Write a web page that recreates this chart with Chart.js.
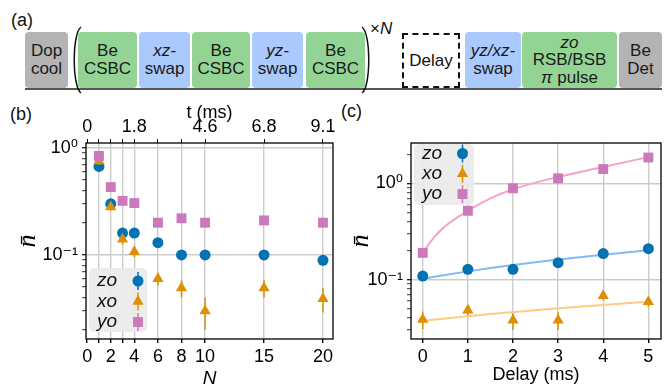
<!DOCTYPE html>
<html>
<head>
<meta charset="utf-8">
<script src="https://cdn.jsdelivr.net/npm/chart.js@4.4.1/dist/chart.umd.min.js"></script>
<style>
body{margin:0;width:670px;height:389px;position:relative;background:#fff;overflow:hidden;font-family:'Liberation Sans',Arial,sans-serif;color:#111}
.lbl{position:absolute;font-size:18px;line-height:18px}
.blk{position:absolute;top:32px;height:56px;border-radius:4px;display:flex;align-items:center;justify-content:center;text-align:center;font-size:17px;line-height:18px;color:#1a1a1a}
.g{background:#93d494}
.b{background:#aac9fc}
.k{background:#b4b4b4}
.dash{position:absolute;top:33px;height:55px;box-sizing:border-box;border:2px dashed #111;display:flex;align-items:center;justify-content:center;font-size:17px}
.base{position:absolute;left:25px;width:637px;top:88px;height:2px;background:#555}
canvas{position:absolute}
</style>
</head>
<body>
<div class="lbl" style="left:11px;top:11px">(a)</div>
<div class="blk k" style="left:25px;width:43px"><span>Dop<br>cool</span></div>
<div class="blk g" style="left:78px;width:59px"><span>Be<br>CSBC</span></div>
<div class="blk b" style="left:139px;width:51px"><span><i>xz-</i><br>swap</span></div>
<div class="blk g" style="left:192px;width:58px"><span>Be<br>CSBC</span></div>
<div class="blk b" style="left:252px;width:51px"><span><i>yz-</i><br>swap</span></div>
<div class="blk g" style="left:306px;width:59px"><span>Be<br>CSBC</span></div>
<div class="dash" style="left:402px;width:58px"><span>Delay</span></div>
<div class="blk b" style="left:465px;width:56px"><span><i>yz/xz-</i><br>swap</span></div>
<div class="blk g" style="left:522px;width:95px;line-height:17.5px"><span><i>zo</i><br>RSB/BSB<br><i>π</i> pulse</span></div>
<div class="blk k" style="left:619px;width:43px"><span>Be<br>Det</span></div>
<div class="base"></div>
<svg style="position:absolute;left:0;top:0" width="670" height="100">
  <path d="M81 27 C72 33 72 87 81 93" fill="none" stroke="#111" stroke-width="1.5"/>
  <path d="M362 27 C371 33 371 87 362 93" fill="none" stroke="#111" stroke-width="1.5"/>
</svg>
<div class="lbl" style="left:370px;top:20px;font-size:17px">×<i>N</i></div>
<div class="lbl" style="left:10px;top:105px">(b)</div>
<div class="lbl" style="left:341px;top:102px">(c)</div>

<canvas id="chartB" width="345" height="294" style="left:0;top:95px"></canvas>
<canvas id="chartC" width="330" height="294" style="left:340px;top:95px"></canvas>

<script>
// panel (b): nbar vs number of cooling cycles N
var nValues = [1, 2, 3, 4, 6, 8, 10, 15, 20];
var zoB = [0.67, 0.30, 0.16, 0.16, 0.13, 0.10, 0.10, 0.10, 0.089];
var xoB = [0.75, 0.28, 0.14, 0.107, 0.06, 0.049, 0.03, 0.049, 0.039];
var yoB = [0.84, 0.43, 0.32, 0.305, 0.20, 0.22, 0.20, 0.21, 0.20];
var zoBErr = [0.03, 0.015, 0.01, 0.01, 0.008, 0.006, 0.006, 0.006, 0.006];
var xoBErr = [0.04, 0.02, 0.015, 0.012, 0.008, 0.009, 0.01, 0.009, 0.01];
var yoBErr = [0.03, 0.02, 0.015, 0.015, 0.01, 0.01, 0.01, 0.01, 0.01];
var nTickPos = [0, 1, 2, 3, 4, 6, 8, 10, 15, 20];
var nTickLabels = ['0', '', '2', '', '4', '6', '8', '10', '15', '20'];
var tTickLabels = ['0', '', '', '', '1.8', '', '', '4.6', '6.8', '9.1'];

// panel (c): nbar vs delay
var delays = [0, 1, 2, 3, 4, 5];
var zoC = [0.109, 0.128, 0.128, 0.15, 0.187, 0.21];
var xoC = [0.0386, 0.048, 0.038, 0.038, 0.068, 0.059];
var yoC = [0.19, 0.52, 0.89, 1.13, 1.41, 1.86];
var zoCErr = [0.006, 0.006, 0.006, 0.007, 0.008, 0.009];
var xoCErr = [0.008, 0.007, 0.008, 0.008, 0.007, 0.007];
var yoCErr = [0.015, 0.03, 0.04, 0.05, 0.06, 0.07];
// heating-rate fits
var fitDelay = [0, 0.25, 0.5, 1, 1.5, 2, 3, 4, 5];
var zoFit = [0.102, 0.107, 0.112, 0.122, 0.132, 0.142, 0.162, 0.182, 0.202];
var xoFit = [0.0374, 0.0385, 0.0396, 0.0417, 0.0439, 0.046, 0.0504, 0.0547, 0.059];
var yoFit = [0.19, 0.275, 0.36, 0.52, 0.70, 0.87, 1.17, 1.48, 1.88];

var COL = {zo: '#0173b2', xo: '#de8f05', yo: '#cc78bc'};
var FIT = {zo: '#86b8f4', xo: '#ffcb80', yo: '#f7a3c6'};

Chart.defaults.font.family = "'Liberation Sans', 'DejaVu Sans', Arial, sans-serif";
Chart.defaults.color = '#000';

function pts(xs, ys) {
    return xs.map(function(x, i) { return {x: x, y: ys[i]}; });
}

function markerSet(label, xs, ys, errs, color, style, r, order) {
    return {
        label: label, data: pts(xs, ys), errors: errs,
        pointStyle: style, pointRadius: r, pointBackgroundColor: color,
        pointBorderWidth: 0, backgroundColor: color, borderColor: color,
        order: order, clip: false
    };
}

function fitSet(xs, ys, color) {
    return {
        data: pts(xs, ys), showLine: true, pointRadius: 0,
        borderColor: color, borderWidth: 2, cubicInterpolationMode: 'monotone',
        order: 10
    };
}

function decadeTicks(lo, hi) {
    var t = [];
    for (var e = -3; e <= 1; e++) {
        for (var m = 1; m < 10; m++) {
            var v = parseFloat((m * Math.pow(10, e)).toPrecision(3));
            if (v >= lo && v <= hi) t.push(v);
        }
    }
    return t;
}
function isMajor(v) {
    var l = Math.log10(v);
    return Math.abs(l - Math.round(l)) < 1e-6;
}
var SUP = {'0': '⁰', '1': '¹', '2': '²', '-': '⁻'};
function powLabel(v) {
    if (!isMajor(v)) return '';
    var s = String(Math.round(Math.log10(v)));
    return '10' + s.split('').map(function(c) { return SUP[c]; }).join('');
}

// vertical error bars, drawn under the markers
var errorBars = {
    id: 'errorBars',
    beforeDatasetsDraw: function(chart) {
        var ctx = chart.ctx, xs = chart.scales.x, ys = chart.scales.y;
        ctx.save();
        chart.data.datasets.forEach(function(ds) {
            if (!ds.errors) return;
            ctx.strokeStyle = ds.pointBackgroundColor;
            ctx.lineWidth = 1.5;
            ds.data.forEach(function(p, i) {
                var e = ds.errors[i];
                var px = xs.getPixelForValue(p.x);
                ctx.beginPath();
                ctx.moveTo(px, ys.getPixelForValue(Math.max(p.y - e, 1e-4)));
                ctx.lineTo(px, ys.getPixelForValue(p.y + e));
                ctx.stroke();
            });
        });
        ctx.restore();
    }
};

var frame = {
    id: 'frame',
    beforeDatasetsDraw: function(chart) {
        var a = chart.chartArea, ctx = chart.ctx;
        ctx.save();
        ctx.strokeStyle = '#000';
        ctx.lineWidth = 1.3;
        ctx.strokeRect(a.left, a.top, a.right - a.left, a.bottom - a.top);
        ctx.restore();
    }
};

// legend inside the axes: label on the left, marker on the right
var insideLegend = {
    id: 'insideLegend',
    afterDraw: function(chart, args, o) {
        var ctx = chart.ctx;
        ctx.save();
        ctx.fillStyle = 'rgba(234,234,234,0.92)';
        ctx.beginPath();
        ctx.roundRect(o.x, o.y, o.w, o.h, 5);
        ctx.fill();
        var rows = chart.data.datasets.filter(function(d) { return d.label; });
        rows.forEach(function(ds, i) {
            var y = o.rowY + i * o.rowStep;
            ctx.fillStyle = '#111';
            ctx.font = "italic 19px 'Liberation Sans', Arial, sans-serif";
            ctx.textBaseline = 'middle';
            ctx.textAlign = 'left';
            ctx.fillText(ds.label, o.textX, y);
            ctx.strokeStyle = ds.pointBackgroundColor;
            ctx.lineWidth = 1.5;
            ctx.beginPath();
            ctx.moveTo(o.markX, y - 9);
            ctx.lineTo(o.markX, y + 9);
            ctx.stroke();
            ctx.fillStyle = ds.pointBackgroundColor;
            Chart.helpers.drawPoint(ctx, {pointStyle: ds.pointStyle, radius: ds.pointRadius, rotation: 0, borderWidth: 0}, o.markX, y);
        });
        ctx.restore();
    }
};

function logAxis(lo, hi, width, titlePad) {
    return {
        type: 'logarithmic', position: 'left', min: lo, max: hi, bounds: 'data',
        afterBuildTicks: function(s) {
            s.ticks = decadeTicks(lo, hi).map(function(v) { return {value: v}; });
        },
        afterFit: function(s) { s.width = width; s.paddingTop = 0; s.paddingBottom = 0; },
        border: {display: false},
        grid: {
            color: function(c) { return c.tick && isMajor(c.tick.value) ? '#cccccc' : 'rgba(0,0,0,0)'; },
            lineWidth: 1.4, tickColor: '#000',
            tickWidth: function(c) { return c.tick && isMajor(c.tick.value) ? 1.2 : 0.8; },
            tickLength: 4
        },
        ticks: {autoSkip: false, padding: 4, font: {size: 18}, callback: function(v) { return powLabel(v); }},
        title: {display: true, text: 'n\u0304', padding: {top: titlePad, bottom: 0},
            font: {family: "'Liberation Serif', 'DejaVu Serif', serif", style: 'italic', size: 26, lineHeight: 1.2}}
    };
}

new Chart(document.getElementById('chartB'), {
    type: 'scatter',
    data: {
        datasets: [
            markerSet('zo', nValues, zoB, zoBErr, COL.zo, 'circle', 5.5, 3),
            markerSet('xo', nValues, xoB, xoBErr, COL.xo, 'triangle', 6.5, 2),
            markerSet('yo', nValues, yoB, yoBErr, COL.yo, 'rect', 7, 1)
        ]
    },
    options: {
        responsive: false, animation: false,
        layout: {padding: {left: 0, right: 12, top: 0, bottom: 0}},
        plugins: {
            legend: {display: false}, tooltip: {enabled: false},
            insideLegend: {x: 89, y: 173, w: 58, h: 64, rowY: 186, rowStep: 20.5, textX: 97, markX: 138}
        },
        scales: {
            x: {
                type: 'linear', position: 'bottom', min: -0.1, max: 20.85, bounds: 'data',
                afterBuildTicks: function(s) { s.ticks = nTickPos.map(function(v) { return {value: v}; }); },
                afterFit: function(s) { s.height = 50; s.paddingLeft = 0; s.paddingRight = 0; },
                border: {display: false},
                grid: {color: function(c) { return c.tick && c.tick.value === 0 ? 'rgba(0,0,0,0)' : '#cccccc'; },
                    lineWidth: 1.4, tickColor: '#000', tickLength: 4},
                ticks: {autoSkip: false, maxRotation: 0, padding: 3, font: {size: 18},
                    callback: function(v, i) { return nTickLabels[i]; }},
                title: {display: true, text: 'N', padding: {top: 0, bottom: 1},
                    font: {size: 19, style: 'italic', lineHeight: 1}}
            },
            xt: {
                type: 'linear', position: 'top', min: -0.1, max: 20.85, bounds: 'data',
                afterBuildTicks: function(s) { s.ticks = nTickPos.map(function(v) { return {value: v}; }); },
                afterFit: function(s) { s.height = 48; s.paddingLeft = 0; s.paddingRight = 0; },
                border: {display: false},
                grid: {drawOnChartArea: false, tickColor: '#000', tickLength: 4},
                ticks: {autoSkip: false, maxRotation: 0, padding: 1, font: {size: 18},
                    callback: function(v, i) { return tTickLabels[i]; }},
                title: {display: true, text: 't (ms)', padding: {top: 7, bottom: 0},
                    font: {size: 18, lineHeight: 1.2}}
            },
            y: logAxis(0.0164, 1.11, 86, 13)
        }
    },
    plugins: [frame, errorBars, insideLegend]
});

new Chart(document.getElementById('chartC'), {
    type: 'scatter',
    data: {
        datasets: [
            markerSet('zo', delays, zoC, zoCErr, COL.zo, 'circle', 5.5, 3),
            markerSet('xo', delays, xoC, xoCErr, COL.xo, 'triangle', 6.5, 2),
            markerSet('yo', delays, yoC, yoCErr, COL.yo, 'rect', 7, 1),
            fitSet(fitDelay, zoFit, FIT.zo),
            fitSet(fitDelay, xoFit, FIT.xo),
            fitSet(fitDelay, yoFit, FIT.yo)
        ]
    },
    options: {
        responsive: false, animation: false,
        layout: {padding: {left: 0, right: 9, top: 48, bottom: 0}},
        plugins: {
            legend: {display: false}, tooltip: {enabled: false},
            insideLegend: {x: 74, y: 49, w: 60, h: 61, rowY: 58.5, rowStep: 20.3, textX: 82, markX: 122.5}
        },
        scales: {
            x: {
                type: 'linear', position: 'bottom', min: -0.26, max: 5.28, bounds: 'data',
                afterBuildTicks: function(s) { s.ticks = delays.map(function(v) { return {value: v}; }); },
                afterFit: function(s) { s.height = 50; s.paddingLeft = 0; s.paddingRight = 0; },
                border: {display: false},
                grid: {color: '#cccccc', lineWidth: 1.4, tickColor: '#000', tickLength: 4},
                ticks: {autoSkip: false, maxRotation: 0, padding: 3, font: {size: 18}},
                title: {display: true, text: 'Delay (ms)', padding: {top: 0, bottom: 3},
                    font: {size: 18, lineHeight: 1.2}}
            },
            y: logAxis(0.0242, 2.63, 71, 6)
        }
    },
    plugins: [frame, errorBars, insideLegend]
});
</script>
</body>
</html>
